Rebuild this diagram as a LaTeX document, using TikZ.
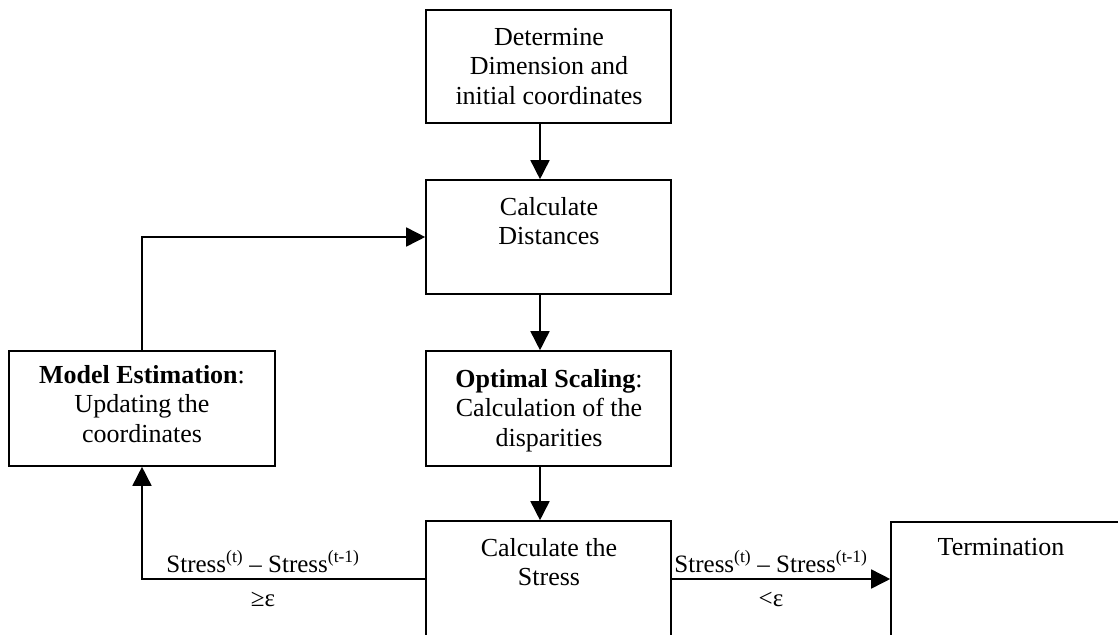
\documentclass[tikz,border=0pt]{standalone}
\usepackage{fontspec}
\setmainfont{Liberation Serif}
\usetikzlibrary{arrows.meta}
\begin{document}
\begin{tikzpicture}[x=1pt,y=-1pt,
  box/.style={draw, line width=1.6pt, rectangle, inner sep=0pt, minimum width=245pt, minimum height=114pt},
  txt/.style={font=\fontsize{26}{29.5}\selectfont, align=center, inner sep=0pt, anchor=north},
  lbl/.style={font=\fontsize{26}{29.5}\selectfont, inner sep=0pt, anchor=base},
  elbl/.style={font=\fontsize{25}{29.5}\selectfont, inner sep=0pt, anchor=base},
  arr/.style={line width=1.6pt, -{Triangle[length=19pt,width=19pt]}}]
\useasboundingbox (0,0) rectangle (1118,634);
\clip (0,0) rectangle (1118,634);
% boxes
\node[box, minimum height=113pt] (b1) at (548.5,66.5) {};
\node[box] (b2) at (548.5,237) {};
\node[box, minimum height=115pt] (b3) at (548.5,408.5) {};
\node[box, minimum height=116pt] (b4) at (548.5,579) {};
\node[box, minimum width=266pt, minimum height=115pt] (model) at (142,408.5) {};
\node[box, minimum width=240pt] (term) at (1011,579) {};
% texts
\node[txt] (t1) at (549,24.35) {\strut Determine\\\strut Dimension and\\\strut initial coordinates};
\node[txt] (t2) at (549,194.35) {\strut Calculate\\\strut Distances};
\node[txt] (t3) at (549,366.35) {\strut\textbf{Optimal Scaling}:\\\strut Calculation of the\\\strut disparities};
\node[txt] (t4) at (549,535.35) {\strut Calculate the\\\strut Stress};
\node[txt] (tm) at (142,362.35) {\strut\textbf{Model Estimation}:\\\strut Updating the\\\strut coordinates};
\node[lbl] (tt) at (1001,555) {Termination};
% labels
\node[elbl] (l1) at (263,572) {Stress\textsuperscript{(t)} – Stress\textsuperscript{(t-1)}};
\node[elbl] (l2) at (263,606) {≥ε};
\node[elbl] (l3) at (771,572) {Stress\textsuperscript{(t)} – Stress\textsuperscript{(t-1)}};
\node[elbl] (l4) at (771,606) {<ε};
% connectors
\coordinate (ax) at (540,0);
\draw[arr] (b1.south -| ax) -- (b2.north -| ax);
\draw[arr] (b2.south -| ax) -- (b3.north -| ax);
\draw[arr] (b3.south -| ax) -- (b4.north -| ax);
\draw[arr] (model.north) |- (b2.west);
\draw[arr] (b4.west) -| (model.south);
\draw[arr] (b4.east) -- (term.west);
\end{tikzpicture}
\end{document}
